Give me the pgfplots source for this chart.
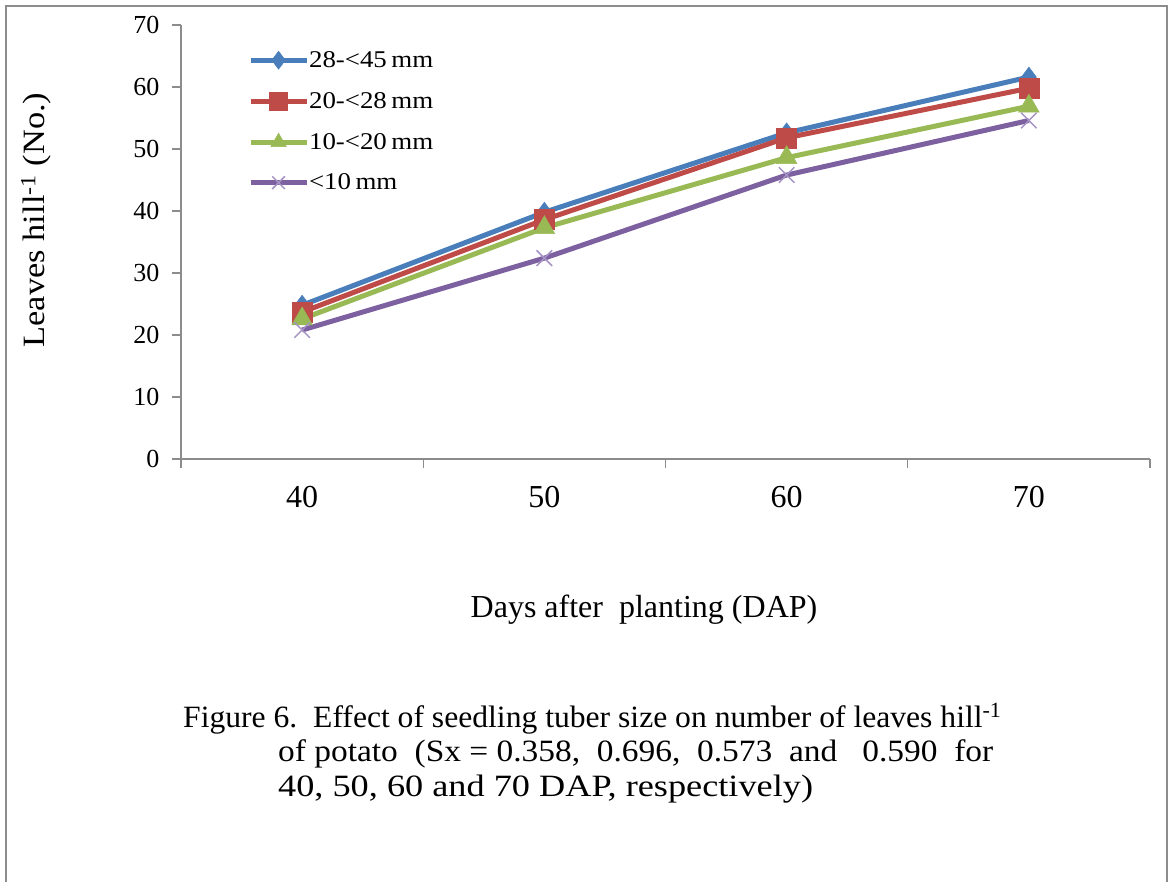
\documentclass[border=0pt]{standalone}
\usepackage{fontspec}
\setmainfont{Liberation Serif}
\usepackage{pgfplots}
\pgfplotsset{compat=1.18}
\definecolor{cblue}{HTML}{4A7EBB}
\definecolor{cred}{HTML}{BE4B48}
\definecolor{cgreen}{HTML}{98B954}
\definecolor{cpurple}{HTML}{7D60A0}
\definecolor{cpurplex}{HTML}{A493C4}
\definecolor{axgray}{HTML}{8C8C8C}
\begin{document}
\begin{tikzpicture}[x=1pt,y=1pt]
\useasboundingbox (0,0) rectangle (1169,881);
\draw[axgray, line width=1.5pt] (6,-2) -- (6,875) -- (1167,875) -- (1167,-2);
\begin{axis}[
  at={(181pt,422pt)}, anchor=south west,
  scale only axis, width=969pt, height=434pt,
  xmin=0, xmax=4, ymin=0, ymax=70,
  axis x line*=bottom, axis y line*=left,
  axis line style={axgray, line width=1.3pt},
  tick style={axgray, line width=1.3pt},
  tick align=outside,
  major tick length=9pt,
  ytick={0,10,...,70},
  yticklabel style={font=\fontsize{26}{26}\selectfont, xshift=-9pt},
  /pgf/number format/assume math mode=true,
  xtick={0,1,2,3,4}, xticklabels={},
  extra x ticks={0.5,1.5,2.5,3.5},
  extra x tick labels={40,50,60,70},
  extra x tick style={major tick length=0pt, tick style={draw=none}},
  xticklabel style={font=\fontsize{32}{32}\selectfont, yshift=-24pt},
  legend style={at={(0.069,0.94)}, anchor=north west, draw=none, fill=none,
    font=\fontsize{24}{24}\selectfont, row sep=23pt, inner sep=0pt,
    nodes={inner sep=0pt}},
  legend cell align=left,
  legend image code/.code={\draw[mark repeat=2,mark phase=2,#1,mark size=9pt] plot coordinates {(0pt,0pt)(28pt,0pt)(56pt,0pt)};},
  every axis plot/.append style={line width=5pt},
  clip=false,
]
\addplot[cblue, mark=diamond*, mark size=10pt, mark options={solid, line width=0.5pt}]
  coordinates {(0.5,24.8) (1.5,39.8) (2.5,52.6) (3.5,61.6)};
\addlegendentry{\scalebox{1.12}[1]{28-<45\,mm}}
\addplot[cred, mark=square*, mark size=10pt, mark options={solid, line width=0.5pt}]
  coordinates {(0.5,23.7) (1.5,38.6) (2.5,51.8) (3.5,59.8)};
\addlegendentry{\scalebox{1.12}[1]{20-<28\,mm}}
\addplot[cgreen, mark=triangle*, mark size=12pt, mark options={solid, line width=0.5pt}]
  coordinates {(0.5,22.6) (1.5,37.3) (2.5,48.6) (3.5,56.9)};
\addlegendentry{\scalebox{1.12}[1]{10-<20\,mm}}
\addplot[cpurple, mark=x, mark size=11pt, mark options={solid, cpurplex, line width=1.5pt}]
  coordinates {(0.5,20.8) (1.5,32.4) (2.5,45.8) (3.5,54.6)};
\addlegendentry{\scalebox{1.12}[1]{<10\,mm}}
\end{axis}
\node[rotate=90, font=\fontsize{31}{31}\selectfont] at (36,661) {\scalebox{1.11}[1]{Leaves hill\textsuperscript{-1} (No.)}};
\node[font=\fontsize{32}{32}\selectfont] at (644,271) {Days after\ \ planting (DAP)};
\node[anchor=base west, font=\fontsize{31}{31}\selectfont, inner sep=0pt] at (183,154) {\scalebox{1.02}[1]{Figure 6.\ \ Effect of seedling tuber size on number of leaves hill\textsuperscript{-1}}};
\node[anchor=base west, font=\fontsize{31}{31}\selectfont, inner sep=0pt] at (278,120) {\scalebox{1.078}[1]{of potato\ \ (Sx = 0.358,\ \ 0.696,\ \ 0.573\ \ and\ \ \ 0.590\ \ for}};
\node[anchor=base west, font=\fontsize{31}{31}\selectfont, inner sep=0pt] at (278,85) {\scalebox{1.17}[1]{40, 50, 60 and 70 DAP, respectively)}};
\end{tikzpicture}
\end{document}
